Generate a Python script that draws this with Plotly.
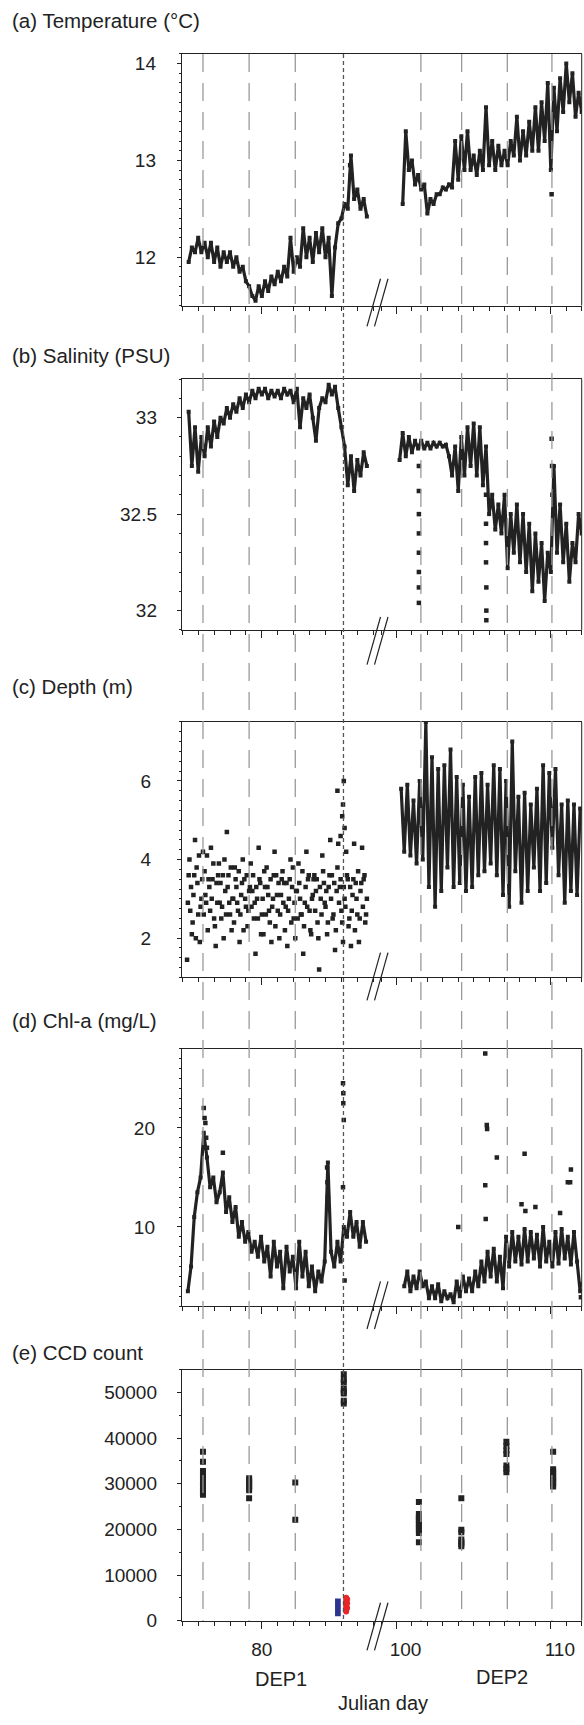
import plotly.graph_objects as go

# ---------------------------------------------------------------- data
STEP = 0.2          # sampling interval (days) of the read-off series
STEP_FINE = 0.1

# (a) Temperature (deg C)
temp_dep1_start = 75.4
temp_dep1 = [11.95, 12.10, 12.05, 12.20, 12.05, 12.15, 12.00, 12.15, 11.95, 12.10,
             11.90, 12.05, 11.95, 12.05, 11.90, 12.00, 11.85, 11.90, 11.75, 11.70,
             11.60, 11.55, 11.70, 11.60, 11.75, 11.65, 11.80, 11.72, 11.85, 11.75,
             11.90, 11.80, 12.20, 11.85, 12.00, 11.90, 12.30, 12.00, 12.20, 11.95,
             12.25, 12.05, 12.30, 12.00, 12.20, 11.60, 12.10, 12.35, 12.40, 12.55,
             12.50, 13.05, 12.60, 12.70, 12.50, 12.60, 12.42]
temp_dep2_start = 100.4
temp_dep2 = [12.55, 13.30, 12.90, 13.00, 12.75, 12.85, 12.70, 12.75, 12.45, 12.60,
             12.55, 12.65, 12.65, 12.72, 12.70, 12.75, 12.72, 13.20, 12.80, 13.25,
             12.90, 13.30, 12.90, 13.05, 12.85, 13.10, 12.90, 13.55, 12.95, 13.20,
             12.90, 13.15, 12.95, 13.10, 12.95, 13.20, 13.05, 13.45, 13.00, 13.30,
             13.05, 13.40, 13.10, 13.55, 13.10, 13.60, 13.20, 13.80, 12.90, 13.75,
             13.30, 13.85, 13.50, 14.00, 13.60, 13.90, 13.45, 13.70, 13.50]
temp_out_day = [110.05, 85.55, 85.6]
temp_out_val = [12.65, 12.95, 12.85]

# (b) Salinity (PSU)
sal_dep1_start = 75.4
sal_dep1 = [33.03, 32.75, 32.95, 32.72, 32.90, 32.80, 32.95, 32.85, 32.98, 32.90,
            33.00, 32.97, 33.05, 33.00, 33.07, 33.03, 33.10, 33.05, 33.12, 33.08,
            33.14, 33.10, 33.15, 33.12, 33.15, 33.10, 33.14, 33.11, 33.14, 33.10,
            33.15, 33.12, 33.14, 33.08, 33.15, 32.95, 33.10, 33.05, 33.12, 33.00,
            32.88, 33.05, 33.10, 33.08, 33.17, 33.12, 33.16, 33.05, 32.95, 32.85,
            32.65, 32.80, 32.62, 32.78, 32.70, 32.82, 32.75]
sal_dep2_start = 100.2
sal_dep2 = [32.78, 32.92, 32.80, 32.90, 32.82, 32.88, 32.84, 32.88, 32.84, 32.87,
            32.84, 32.87, 32.85, 32.87, 32.85, 32.86, 32.80, 32.70, 32.85, 32.62,
            32.90, 32.70, 32.95, 32.75, 32.97, 32.70, 32.95, 32.65, 32.85, 32.50,
            32.60, 32.42, 32.55, 32.40, 32.60, 32.22, 32.50, 32.30, 32.55, 32.25,
            32.50, 32.20, 32.45, 32.10, 32.40, 32.15, 32.35, 32.05, 32.30, 32.20,
            32.75, 32.30, 32.55, 32.25, 32.45, 32.15, 32.35, 32.25, 32.50, 32.40]
sal_out_day = [101.45, 101.45, 101.45, 101.45, 101.45, 101.45, 101.45, 101.45,
               105.8, 105.8, 105.8, 105.8, 105.82, 105.82, 105.82, 110.05, 110.08, 110.1]
sal_out_val = [32.75, 32.62, 32.50, 32.40, 32.30, 32.20, 32.12, 32.04,
               32.60, 32.45, 32.35, 32.25, 32.12, 32.00, 31.95, 32.89, 32.75, 32.60]

# (c) Depth (m)
depth_dep1_start = 75.3
depth_dep1 = [1.45, 3.6, 2.7, 2.1, 3.1, 4.5, 3.8, 2.6, 1.9, 3.0,
              4.2, 3.7, 2.9, 2.2, 3.3, 4.3, 3.5, 2.5, 1.8, 2.9,
              3.9, 3.4, 2.8, 2.0, 3.2, 4.7, 3.6, 2.6, 2.2, 3.0,
              3.8, 3.3, 2.7, 1.9, 3.1, 4.0, 3.5, 2.8, 2.3, 3.2,
              3.9, 3.2, 2.5, 1.6, 3.0, 4.3, 3.4, 2.6, 2.1, 3.3,
              3.8, 3.1, 2.4, 1.9, 3.0, 4.2, 3.6, 2.7, 2.0, 3.1,
              3.7, 3.4, 2.8, 1.8, 3.0, 4.0, 3.3, 2.5, 2.0, 3.2,
              3.9, 3.0, 2.6, 1.6, 2.9, 4.2, 3.5, 2.7, 2.1, 3.1,
              3.6, 3.2, 2.4, 1.2, 3.0, 4.1, 3.4, 2.8, 2.1, 3.3,
              4.5, 3.6, 2.6, 1.7, 3.2, 4.4, 3.3, 2.7, 1.9, 3.0,
              4.2, 3.5, 2.5, 1.8, 3.1, 4.4, 3.4, 2.6, 1.9, 3.2,
              4.3, 3.5, 2.4, 3.0]
depth_dep1_b_start = 75.35
depth_dep1_b = [2.9, 4.0, 3.3, 2.4, 3.6, 2.0, 3.4, 4.1, 2.8, 3.5,
                2.6, 3.1, 4.1, 3.5, 2.7, 3.0, 3.9, 2.3, 3.4, 3.6,
                2.9, 2.5, 3.6, 4.0, 2.6, 3.3, 2.9, 3.8, 3.0, 2.4,
                3.5, 2.9, 3.7, 2.6, 3.4, 2.2, 3.0, 3.6, 2.7, 3.3,
                2.8, 3.6, 2.9, 3.3, 2.5, 3.5, 2.1, 3.0, 3.7, 2.6,
                3.3, 2.7, 3.5, 2.8, 3.6, 2.3, 3.1, 3.4, 2.6, 3.5,
                2.9, 2.2, 3.4, 2.7, 3.5, 2.4, 3.8, 2.9, 3.2, 2.5,
                3.4, 2.6, 3.7, 2.3, 3.3, 2.8, 3.6, 2.2, 3.0, 3.5,
                2.7, 3.5, 2.0, 3.3, 2.6, 3.7, 2.9, 3.2, 2.4, 3.6,
                3.0, 2.5, 3.4, 2.2, 3.8, 2.9, 3.5, 2.4, 3.3, 2.8,
                3.6, 2.3, 3.3, 2.7, 3.5, 2.2, 3.0, 3.7, 2.5, 3.4,
                2.8, 3.6, 2.6]
depth_out_day = [84.75, 84.95, 85.05, 85.1, 85.15, 85.2]
depth_out_val = [5.75, 4.6, 5.1, 5.4, 6.0, 4.8]
depth_dep2_start = 100.3
depth_dep2 = [5.8, 4.2, 5.9, 4.1, 5.5, 3.9, 6.0, 4.0, 7.5, 3.3,
              6.6, 2.8, 6.3, 3.2, 6.4, 3.8, 6.8, 3.3, 6.1, 3.4,
              5.9, 3.2, 5.6, 3.3, 6.1, 3.6, 6.2, 3.7, 5.9, 3.9,
              6.4, 3.6, 6.3, 3.1, 6.0, 2.8, 7.0, 3.7, 5.6, 2.9,
              5.7, 3.2, 5.4, 3.8, 5.8, 3.2, 6.4, 3.4, 6.2, 4.3,
              6.3, 3.6, 5.4, 2.9, 5.5, 3.2, 5.4, 3.1, 5.3]

# (d) Chl-a (mg/L)
chl_dep1_start = 75.35
chl_dep1 = [3.5, 6.0, 11.0, 13.5, 15.0, 19.5, 17.0, 14.0, 15.0, 12.5,
            13.5, 15.5, 11.5, 13.0, 10.5, 12.0, 9.0, 10.5, 8.5, 9.5,
            7.5, 8.5, 7.0, 9.0, 6.5, 8.0, 5.0, 8.5, 6.0, 7.5,
            3.8, 8.0, 5.5, 7.0, 3.8, 8.5, 5.0, 7.5, 4.0, 6.0,
            3.5, 5.5, 4.5, 6.5, 16.5, 7.5, 6.0, 8.5, 6.5, 10.0,
            9.0, 11.5, 9.0, 10.5, 8.0, 10.5, 8.5]
chl_out1_day = [76.35, 76.4, 76.45, 76.5, 76.55, 77.55, 84.1, 84.12, 84.15,
                85.1, 85.12, 85.12, 85.15, 85.2, 85.1]
chl_out1_val = [22.0, 21.0, 20.5, 19.0, 18.0, 17.5, 16.0, 14.5, 13.0,
                24.5, 23.5, 22.5, 20.8, 4.6, 14.0]
chl_dep2_start = 100.5
chl_dep2 = [4.0, 5.5, 3.5, 5.0, 3.8, 5.5, 4.0, 4.5, 2.8, 4.0,
            2.8, 4.2, 2.5, 3.5, 2.8, 3.2, 2.4, 4.5, 3.0, 5.0,
            3.5, 4.8, 3.5, 5.5, 4.0, 6.5, 4.5, 7.5, 5.0, 7.8,
            4.5, 7.0, 3.8, 9.0, 6.0, 9.5, 6.5, 9.0, 6.2, 9.8,
            6.5, 9.5, 6.8, 9.2, 6.0, 10.0, 6.5, 8.5, 6.0, 9.5,
            6.3, 9.8, 6.8, 9.0, 6.2, 9.5, 6.5, 3.5]
chl_out2_day = [105.75, 105.85, 105.87, 105.75, 105.78, 106.5, 108.3, 108.1,
                111.3, 111.1, 111.25, 104.0, 111.95, 111.95, 109.0, 110.6, 108.35]
chl_out2_val = [27.5, 20.3, 19.9, 14.2, 10.8, 17.0, 17.4, 12.3,
                15.8, 14.5, 14.5, 10.0, 4.2, 2.9, 12.0, 11.4, 11.6]

# (e) CCD count
ccd_days = [76.3, 79.2, 82.1, 85.15, 101.45, 104.2, 107.12, 110.15]
ccd_counts = [
    [37000, 34800, 32800, 32000, 31300, 30500, 30000, 29300, 28600, 28000, 27600],
    [31200, 30800, 30400, 30000, 29500, 29000, 28600, 26800],
    [30300, 22100],
    [54000, 52800, 52200, 50800, 50200, 49800, 48200, 47600],
    [26000, 23400, 22800, 22300, 21800, 21200, 20600, 20000, 19200, 17200],
    [26800, 19900, 19400, 17800, 17300, 16800, 16300],
    [39200, 38300, 37300, 36500, 34000, 33300, 32500],
    [37000, 33200, 32500, 31800, 31200, 30600, 30000, 29400],
]
blue_day, blue_low, blue_high = 84.78, 950, 4850
red_day = [85.3, 85.3, 85.3, 85.3, 85.3, 85.3, 85.3, 85.36, 85.36, 85.36]
red_val = [5000, 4500, 4000, 3500, 3000, 2500, 2000, 4700, 3800, 2800]

# sampling days marked by vertical lines
sample_days_dep1 = [76.3, 79.2, 82.1]
event_day = 85.13
sample_days_dep2 = [101.58, 104.22, 107.18, 110.07]

panel_titles = ["(a) Temperature (\u00b0C)", "(b) Salinity (PSU)", "(c) Depth (m)",
                "(d) Chl-a (mg/L)", "(e) CCD count"]
y_ranges = [[11.5, 14.1], [31.9, 33.2], [1.0, 7.5], [2, 28], [0, 55000]]
y_ticks = [[12, 13, 14], [32, 32.5, 33], [2, 4, 6], [10, 20],
           [0, 10000, 20000, 30000, 40000, 50000]]
y_minor = [0.1, 0.1, 0.25, 1, 5000]
left_range = [75, 87.3]
right_range = [98.8, 112.0]
left_ticks = [80]
right_ticks = [100, 110]

# ---------------------------------------------------------------- layout (pixels)
W, H = 584, 1725
X_L0, X_MID, X_R1 = 182.3, 378.0, 581.7
panel_px = [(53.3, 306.7), (380.7, 633.3), (726.0, 983.3), (1055.0, 1314.3), (1378.3, 1631.0)]
title_y_px = [20, 356.7, 690, 1026.5, 1361]
label_standoff = [17, 16, 22, 18, 16]
break_top_off = [-27, -13, -25, -25, -18]   # px relative to bottom axis

INK = "#222222"
FONT = "Liberation Sans, Arial, Helvetica, sans-serif"


def px_x(p):
    return p / W


def px_y(p):
    return 1 - p / H


def days(start, n, step):
    return [round(start + i * step, 3) for i in range(n)]


fig = go.Figure()


def ax_id(n, kind):
    return kind if n == 1 else f"{kind}{n}"


zig = dict(mode="lines+markers", line=dict(color=INK, width=3.2),
           marker=dict(symbol="square", size=4, color=INK), showlegend=False,
           hoverinfo="skip")
dots = dict(mode="markers", marker=dict(symbol="square", size=4.5, color=INK),
            showlegend=False, hoverinfo="skip")


def add(p, side, x, y, style):
    xn = 2 * p + 1 + (1 if side == "r" else 0)
    fig.add_trace(go.Scatter(x=x, y=y, xaxis=ax_id(xn, "x"), yaxis=ax_id(p + 1, "y"), **style))


# (a)
add(0, "l", days(temp_dep1_start, len(temp_dep1), STEP), temp_dep1, zig)
add(0, "r", days(temp_dep2_start, len(temp_dep2), STEP), temp_dep2, zig)
add(0, "r", temp_out_day[:1], temp_out_val[:1], dots)
add(0, "l", temp_out_day[1:], temp_out_val[1:], dots)
# (b)
add(1, "l", days(sal_dep1_start, len(sal_dep1), STEP), sal_dep1, zig)
add(1, "r", days(sal_dep2_start, len(sal_dep2), STEP), sal_dep2, zig)
add(1, "r", sal_out_day, sal_out_val, dots)
# (c)
add(2, "l", days(depth_dep1_start, len(depth_dep1), STEP_FINE), depth_dep1, dots)
add(2, "l", days(depth_dep1_b_start, len(depth_dep1_b), STEP_FINE), depth_dep1_b, dots)
add(2, "l", depth_out_day, depth_out_val, dots)
add(2, "r", days(depth_dep2_start, len(depth_dep2), STEP), depth_dep2, zig)
# (d)
add(3, "l", days(chl_dep1_start, len(chl_dep1), STEP), chl_dep1, zig)
add(3, "l", chl_out1_day, chl_out1_val, dots)
add(3, "r", days(chl_dep2_start, len(chl_dep2), STEP), chl_dep2, zig)
add(3, "r", chl_out2_day, chl_out2_val, dots)
# (e)
ccd_style = dict(mode="markers", marker=dict(symbol="square", size=6, color=INK),
                 showlegend=False, hoverinfo="skip")
for d, vals in zip(ccd_days, ccd_counts):
    add(4, "l" if d < 90 else "r", [d] * len(vals), vals, ccd_style)
fig.add_trace(go.Bar(x=[blue_day], y=[blue_high - blue_low], base=[blue_low], width=0.36,
                     marker=dict(color="#2b3590", line=dict(width=0)),
                     xaxis="x9", yaxis="y5", showlegend=False, hoverinfo="skip"))
add(4, "l", red_day, red_val, dict(mode="markers",
                                    marker=dict(symbol="circle", size=6, color="#e8262a"),
                                    showlegend=False, hoverinfo="skip"))

# ---------------------------------------------------------------- axes
layout = {}
tickfont = dict(family=FONT, size=19, color=INK)
for p in range(5):
    top, bot = panel_px[p]
    ydom = [px_y(bot), px_y(top)]
    last = p == 4
    for side in ("l", "r"):
        xn = 2 * p + 1 + (1 if side == "r" else 0)
        layout["xaxis" if xn == 1 else f"xaxis{xn}"] = dict(
            domain=[px_x(X_L0), px_x(X_MID)] if side == "l" else [px_x(X_MID), px_x(X_R1)],
            range=left_range if side == "l" else right_range,
            anchor=ax_id(p + 1, "y"),
            showgrid=False, zeroline=False,
            showline=True, linecolor=INK, linewidth=1, mirror=True,
            tickmode="array", tickvals=left_ticks if side == "l" else right_ticks,
            ticks="outside", ticklen=7, tickwidth=1, tickcolor=INK,
            minor=dict(tickmode="linear", tick0=75 if side == "l" else 99, dtick=1,
                       ticks="outside", ticklen=4, tickwidth=1, tickcolor=INK, showgrid=False),
            showticklabels=last, tickfont=tickfont,
            ticklabelstandoff=5,
            ticklabelshift=0 if side == "l" else 9,
        )
    layout["yaxis" if p == 0 else f"yaxis{p + 1}"] = dict(
        domain=ydom, range=y_ranges[p], anchor=ax_id(2 * p + 1, "x"),
        showgrid=False, zeroline=False,
        showline=True, linecolor=INK, linewidth=1,
        tickmode="array", tickvals=y_ticks[p], tickformat="d" if p == 4 else None,
        ticks="outside", ticklen=4.5, tickwidth=1, tickcolor=INK,
        minor=dict(tickmode="linear", tick0=y_ranges[p][0], dtick=y_minor[p], ticks="outside",
                   ticklen=2.5, tickwidth=1, tickcolor=INK, showgrid=False),
        tickfont=tickfont, ticklabelstandoff=label_standoff[p],
    )

# ---------------------------------------------------------------- shapes
shapes = []
y_top_all, y_bot_all = px_y(panel_px[0][0]), px_y(panel_px[4][1])
for d in sample_days_dep1:
    shapes.append(dict(type="line", xref="x", yref="paper", x0=d, x1=d, y0=y_top_all, y1=y_bot_all,
                       line=dict(color="#9a9a9a", width=1.3, dash="18px,11px"), layer="above"))
for d in sample_days_dep2:
    shapes.append(dict(type="line", xref="x2", yref="paper", x0=d, x1=d, y0=y_top_all, y1=y_bot_all,
                       line=dict(color="#9a9a9a", width=1.3, dash="18px,11px"), layer="above"))
shapes.append(dict(type="line", xref="x", yref="paper", x0=event_day, x1=event_day,
                   y0=y_top_all, y1=y_bot_all,
                   line=dict(color="#555555", width=1.3, dash="4px,3px"), layer="above"))
for p in range(5):
    top, bot = panel_px[p]
    shapes.append(dict(type="line", xref="paper", yref="paper", x0=px_x(X_R1), x1=px_x(X_R1),
                       y0=px_y(bot), y1=px_y(top), line=dict(color=INK, width=1)))
    yt = bot + break_top_off[p]
    yb = yt + 48
    for dx in (0, 7.5):
        shapes.append(dict(type="line", xref="paper", yref="paper",
                           x0=px_x(367 + dx), y0=px_y(yb), x1=px_x(380.5 + dx), y1=px_y(yt),
                           line=dict(color=INK, width=1.2)))

# ---------------------------------------------------------------- annotations
ann = []
for p in range(5):
    ann.append(dict(text=panel_titles[p], x=px_x(10), y=px_y(title_y_px[p]), xref="paper", yref="paper",
                    xanchor="left", yanchor="middle", showarrow=False,
                    font=dict(family=FONT, size=20.5, color=INK)))
for txt, xc, yc in [("DEP1", 280.5, 1690), ("DEP2", 502.3, 1688), ("Julian day", 383, 1714)]:
    ann.append(dict(text=txt, x=px_x(xc), y=px_y(yc), xref="paper", yref="paper",
                    xanchor="center", yanchor="middle", showarrow=False,
                    font=dict(family=FONT, size=20, color=INK)))

fig.update_layout(
    width=W, height=H, margin=dict(l=0, r=0, t=0, b=0, pad=0),
    paper_bgcolor="white", plot_bgcolor="white",
    showlegend=False, shapes=shapes, annotations=ann, **layout,
)
fig.write_html(
    "out.html",
    config={"displayModeBar": False},
    post_script="document.body.style.margin='0';document.body.style.overflow='hidden';"
                "document.documentElement.style.overflow='hidden';",
)
